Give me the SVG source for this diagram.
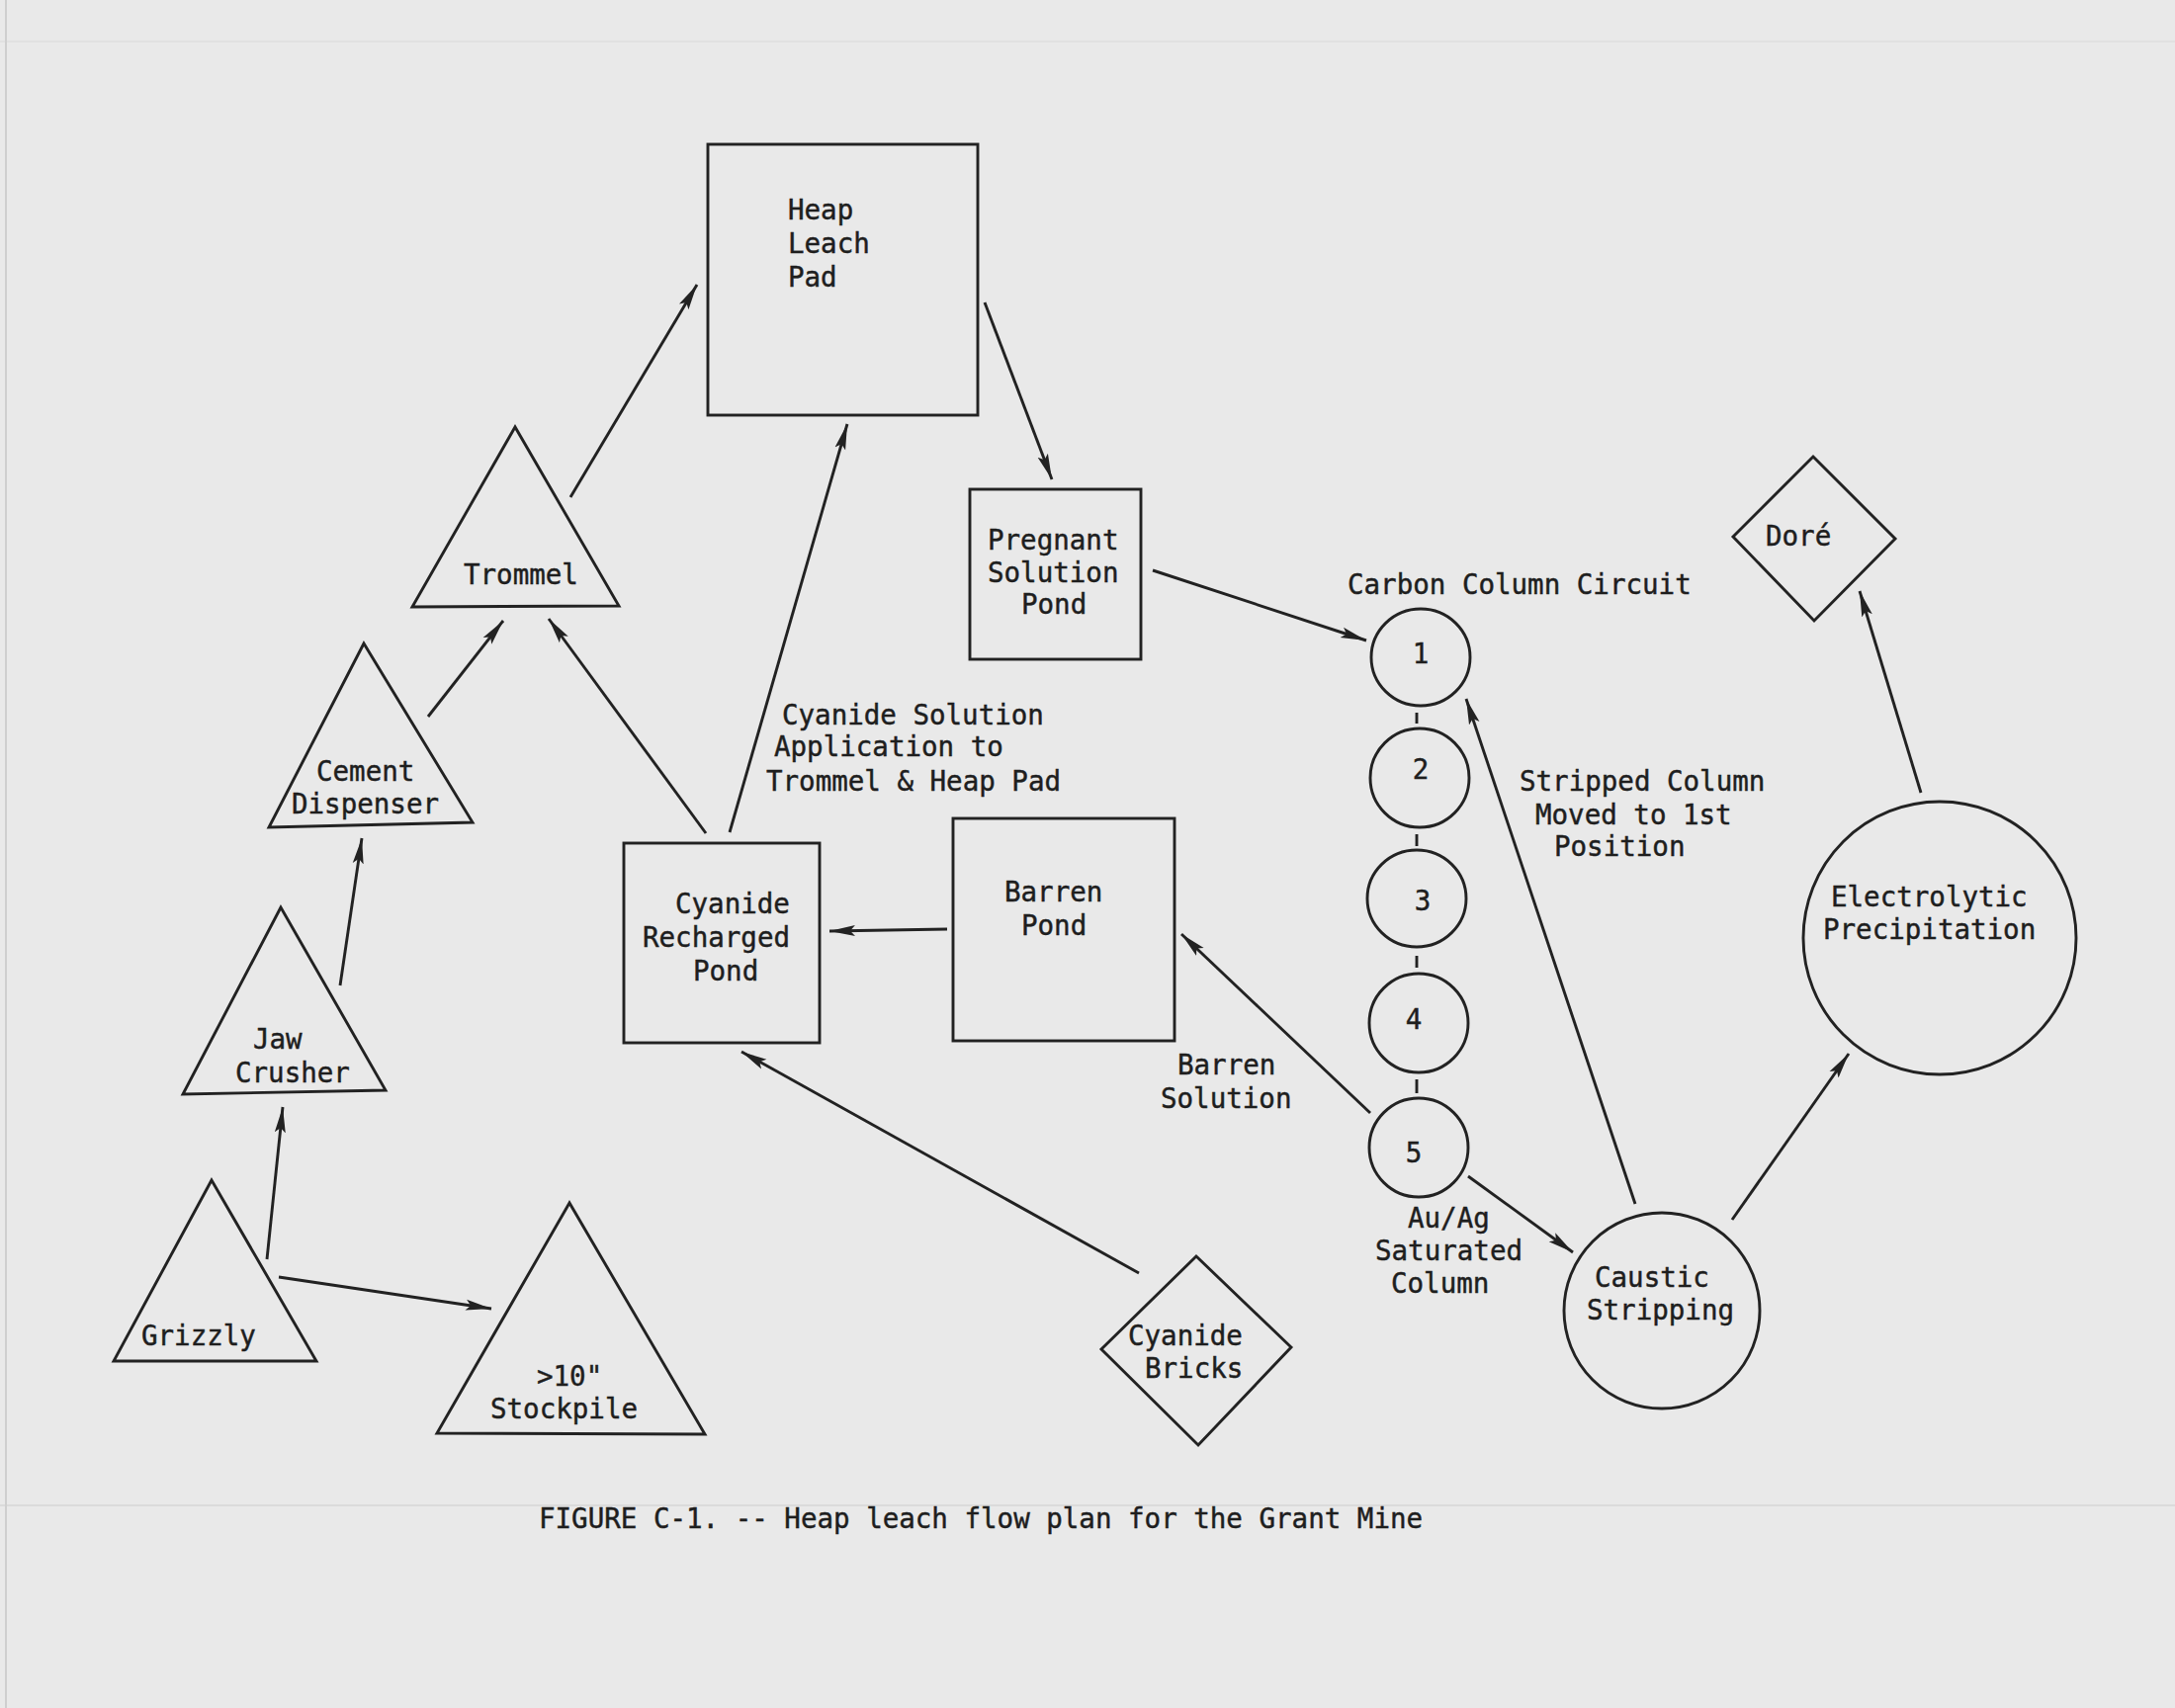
<svg xmlns="http://www.w3.org/2000/svg" width="2200" height="1728" viewBox="0 0 2200 1728">
<defs>
<style>
.bg{fill:#e9e9e9}
.s{fill:none;stroke:#222;stroke-width:2.9;stroke-linejoin:miter}
.c{fill:none;stroke:#222;stroke-width:2.9}
.t{font-family:"DejaVu Sans Mono","Liberation Mono",monospace;font-size:27.5px;fill:#1e1e1e;stroke:#1e1e1e;stroke-width:0.45}
.a{marker-end:url(#ah)}
</style>
<marker id="ah" markerWidth="28" markerHeight="14" refX="26" refY="7" orient="auto" markerUnits="userSpaceOnUse">
<path d="M0,1.5 L26,7 L0,12.5 L5,7 z" fill="#222"/>
</marker>
</defs>
<rect class="bg" x="0" y="0" width="2200" height="1728"/>
<line x1="0" y1="1523" x2="2200" y2="1523" stroke="#d6d6d6" stroke-width="1.5"/>
<line x1="0" y1="42" x2="2200" y2="42" stroke="#dedede" stroke-width="1.5"/>
<line x1="6" y1="0" x2="6" y2="1728" stroke="#cfcfcf" stroke-width="2"/>

<g id="heap-leach-pad">
<rect class="s" x="716" y="146" width="273" height="274"/>
<text class="t" x="797" y="222">Heap</text>
<text class="t" x="797" y="256">Leach</text>
<text class="t" x="797" y="290">Pad</text>
</g>
<g id="trommel">
<polygon class="s" points="521,432 417,614 626,613"/>
<text class="t" x="469" y="591">Trommel</text>
</g>
<g id="cement-dispenser">
<polygon class="s" points="368,651 272,837 478,832"/>
<text class="t" x="320" y="790">Cement</text>
<text class="t" x="295" y="823">Dispenser</text>
</g>
<g id="jaw-crusher">
<polygon class="s" points="284,918 185,1107 390,1103"/>
<text class="t" x="256" y="1061">Jaw</text>
<text class="t" x="238" y="1095">Crusher</text>
</g>
<g id="grizzly">
<polygon class="s" points="214,1194 115,1377 320,1377"/>
<text class="t" x="143" y="1361">Grizzly</text>
</g>
<g id="stockpile">
<polygon class="s" points="576,1217 442,1450 713,1451"/>
<text class="t" x="543" y="1402">&gt;10"</text>
<text class="t" x="496" y="1435">Stockpile</text>
</g>
<g id="cyanide-recharged-pond">
<rect class="s" x="631" y="853" width="198" height="202"/>
<text class="t" x="683" y="924">Cyanide</text>
<text class="t" x="650" y="958">Recharged</text>
<text class="t" x="701" y="992">Pond</text>
</g>
<g id="barren-pond">
<rect class="s" x="964" y="828" width="224" height="225"/>
<text class="t" x="1016" y="912">Barren</text>
<text class="t" x="1033" y="946">Pond</text>
</g>
<g id="pregnant-solution-pond">
<rect class="s" x="981" y="495" width="173" height="172"/>
<text class="t" x="999" y="556">Pregnant</text>
<text class="t" x="999" y="589">Solution</text>
<text class="t" x="1033" y="621">Pond</text>
</g>
<g id="cyanide-bricks">
<polygon class="s" points="1210,1271 1306,1363 1212,1462 1114,1365"/>
<text class="t" x="1141" y="1361">Cyanide</text>
<text class="t" x="1158" y="1394">Bricks</text>
</g>
<g id="carbon-column-circuit">
<text class="t" x="1363" y="601">Carbon Column Circuit</text>
</g>
<g id="column-1">
<ellipse class="c" cx="1437" cy="665" rx="50" ry="49"/>
<text class="t" x="1437" y="671" text-anchor="middle">1</text>
</g>
<g id="column-2">
<ellipse class="c" cx="1436" cy="787" rx="50" ry="50"/>
<text class="t" x="1437" y="788" text-anchor="middle">2</text>
</g>
<g id="column-3">
<ellipse class="c" cx="1433" cy="909" rx="50" ry="49"/>
<text class="t" x="1439" y="921" text-anchor="middle">3</text>
</g>
<g id="column-4">
<ellipse class="c" cx="1435" cy="1035" rx="50" ry="50"/>
<text class="t" x="1430" y="1041" text-anchor="middle">4</text>
</g>
<g id="column-5">
<ellipse class="c" cx="1435" cy="1161" rx="50" ry="50"/>
<text class="t" x="1430" y="1176" text-anchor="middle">5</text>
</g>
<g id="caustic-stripping">
<circle class="c" cx="1681" cy="1326" r="99"/>
<text class="t" x="1613" y="1302">Caustic</text>
<text class="t" x="1605" y="1335">Stripping</text>
</g>
<g id="electrolytic-precipitation">
<circle class="c" cx="1962" cy="949" r="138"/>
<text class="t" x="1852" y="917">Electrolytic</text>
<text class="t" x="1844" y="950">Precipitation</text>
</g>
<g id="dore">
<polygon class="s" points="1834,462 1917,545 1835,628 1753,543"/>
<text class="t" x="1786" y="552">Doré</text>
</g>

<g id="connectors">
<line class="s a" x1="577" y1="503" x2="705" y2="288"/>
<line class="s a" x1="996" y1="306" x2="1064" y2="485"/>
<line class="s a" x1="738" y1="842" x2="857" y2="429"/>
<line class="s a" x1="714" y1="843" x2="555" y2="626"/>
<line class="s a" x1="433" y1="725" x2="509" y2="628"/>
<line class="s a" x1="344" y1="997" x2="366" y2="848"/>
<line class="s a" x1="270" y1="1274" x2="286" y2="1120"/>
<line class="s a" x1="282" y1="1292" x2="497" y2="1324"/>
<line class="s a" x1="958" y1="940" x2="839" y2="942"/>
<line class="s a" x1="1152" y1="1288" x2="750" y2="1064"/>
<line class="s a" x1="1166" y1="577" x2="1382" y2="648"/>
<line class="s a" x1="1386" y1="1126" x2="1195" y2="945"/>
<line class="s a" x1="1485" y1="1190" x2="1591" y2="1267"/>
<line class="s a" x1="1654" y1="1218" x2="1483" y2="707"/>
<line class="s a" x1="1752" y1="1234" x2="1870" y2="1066"/>
<line class="s a" x1="1943" y1="802" x2="1881" y2="598"/>
<line class="s" x1="1433" y1="721" x2="1433" y2="732"/>
<line class="s" x1="1433" y1="844" x2="1433" y2="856"/>
<line class="s" x1="1433" y1="967" x2="1433" y2="979"/>
<line class="s" x1="1433" y1="1092" x2="1433" y2="1106"/>
</g>

<g id="labels">
<text class="t" x="791" y="733">Cyanide Solution</text>
<text class="t" x="783" y="765">Application to</text>
<text class="t" x="775" y="800">Trommel &amp; Heap Pad</text>
<text class="t" x="1537" y="800">Stripped Column</text>
<text class="t" x="1553" y="834">Moved to 1st</text>
<text class="t" x="1572" y="866">Position</text>
<text class="t" x="1191" y="1087">Barren</text>
<text class="t" x="1174" y="1121">Solution</text>
<text class="t" x="1424" y="1242">Au/Ag</text>
<text class="t" x="1391" y="1275">Saturated</text>
<text class="t" x="1407" y="1308">Column</text>
<text class="t" x="545" y="1546">FIGURE C-1. -- Heap leach flow plan for the Grant Mine</text>
</g>
</svg>
